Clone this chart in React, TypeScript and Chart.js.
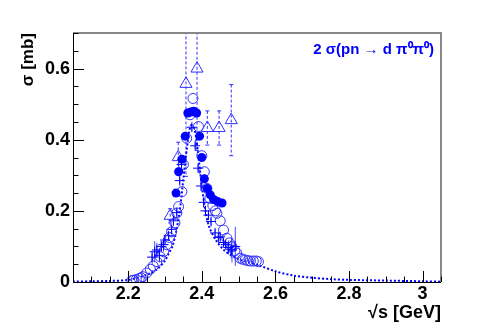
import React, { useEffect, useRef } from "react";
import { Chart, registerables } from "chart.js";

Chart.register(...registerables);

// ---- data ----
const xTickValues = [2.2, 2.4, 2.6, 2.8, 3.0];
const xTickLabels = ["2.2", "2.4", "2.6", "2.8", "3"];
const yTickValues = [0, 0.2, 0.4, 0.6];
const yTickLabels = ["0", "0.2", "0.4", "0.6"];

// filled circles
const filledE = [2.33, 2.337, 2.346, 2.355, 2.362, 2.37, 2.378, 2.386, 2.394, 2.4, 2.407, 2.415, 2.423, 2.432, 2.443, 2.455];
const filledS = [0.25, 0.31, 0.345, 0.41, 0.475, 0.478, 0.48, 0.475, 0.41, 0.35, 0.29, 0.263, 0.245, 0.232, 0.226, 0.222];

// open circles
const openE = [2.21, 2.214, 2.222, 2.23, 2.235, 2.24, 2.25, 2.26, 2.268, 2.278, 2.287, 2.296, 2.305, 2.312, 2.318, 2.327, 2.332, 2.337, 2.346, 2.35, 2.359, 2.368, 2.376, 2.391, 2.4, 2.407, 2.414, 2.422, 2.43, 2.437, 2.441, 2.45, 2.459, 2.468, 2.475, 2.482, 2.49, 2.495, 2.504, 2.511, 2.518, 2.525, 2.532, 2.54, 2.548, 2.554];
const openS = [0.004, 0.005, 0.007, 0.01, 0.012, 0.015, 0.025, 0.036, 0.045, 0.057, 0.071, 0.085, 0.105, 0.125, 0.141, 0.166, 0.194, 0.212, 0.254, 0.33, 0.404, 0.47, 0.516, 0.437, 0.355, 0.31, 0.263, 0.235, 0.215, 0.2, 0.193, 0.172, 0.146, 0.123, 0.11, 0.099, 0.088, 0.081, 0.067, 0.064, 0.062, 0.06, 0.059, 0.059, 0.059, 0.057];

// crosses
const crossE = [2.265, 2.272, 2.278, 2.285, 2.29, 2.296, 2.3, 2.31, 2.318, 2.323, 2.332, 2.34, 2.345, 2.373, 2.382, 2.39, 2.398, 2.405, 2.41, 2.418, 2.425, 2.436, 2.445, 2.45, 2.459, 2.465, 2.473, 2.48, 2.482, 2.491];
const crossS = [0.07, 0.085, 0.09, 0.075, 0.1, 0.105, 0.118, 0.13, 0.148, 0.172, 0.195, 0.285, 0.33, 0.435, 0.383, 0.32, 0.27, 0.224, 0.2, 0.188, 0.17, 0.138, 0.125, 0.127, 0.111, 0.105, 0.097, 0.092, 0.09, 0.1];
const crossErr = [0.01, 0.03, 0.02, 0.02, 0.015, 0.02, 0.01, 0.01, 0.01, 0.01, 0.01, 0.01, 0.01, 0.01, 0.01, 0.01, 0.01, 0.01, 0.01, 0.01, 0.01, 0.01, 0.01, 0.01, 0.01, 0.01, 0.02, 0.025, 0.035, 0.055];

// open triangles
const triE = [2.314, 2.336, 2.357, 2.387, 2.415, 2.447, 2.48];
const triS = [0.186, 0.351, 0.557, 0.6, 0.433, 0.433, 0.455];
const triErr = [0.02, 0.042, 0.26, 0.23, 0.048, 0.048, 0.1];

// dotted curve
const curveE = [2.05, 2.1, 2.15, 2.2, 2.25, 2.28, 2.3, 2.31, 2.32, 2.33, 2.34, 2.35, 2.36, 2.37, 2.38, 2.39, 2.4, 2.41, 2.42, 2.44, 2.46, 2.48, 2.5, 2.53, 2.56, 2.6, 2.65, 2.7, 2.75, 2.8, 2.9, 3.0, 3.05];
const curveS = [0.001, 0.002, 0.003, 0.006, 0.02, 0.037, 0.06, 0.08, 0.1, 0.14, 0.2, 0.29, 0.38, 0.44, 0.43, 0.36, 0.27, 0.2, 0.155, 0.115, 0.09, 0.075, 0.064, 0.055, 0.045, 0.03, 0.018, 0.012, 0.008, 0.006, 0.004, 0.002, 0.001];

const BLUE = "rgb(0,0,255)";
const BLUE_L = "rgb(50,50,255)";

const pts = (xs: number[], ys: number[]) => xs.map((x, i) => ({ x, y: ys[i] }));

const decorPlugin = {
  id: "decor",
  beforeDatasetsDraw(chart: any) {
    const { ctx, chartArea: ca, scales } = chart;
    const xs = scales.x, ys = scales.y;
    ctx.save();
    ctx.beginPath();
    ctx.rect(ca.left, ca.top, ca.right - ca.left, ca.bottom - ca.top);
    ctx.clip();
    // triangle error bars (dashed)
    ctx.strokeStyle = BLUE_L;
    ctx.lineWidth = 1;
    ctx.setLineDash([3, 2]);
    triE.forEach((e, i) => {
      const px = xs.getPixelForValue(e);
      const y1 = ys.getPixelForValue(triS[i] + triErr[i]);
      const y2 = ys.getPixelForValue(triS[i] - triErr[i]);
      ctx.beginPath();
      ctx.moveTo(px, y1);
      ctx.lineTo(px, y2);
      ctx.stroke();
    });
    ctx.setLineDash([]);
    triE.forEach((e, i) => {
      const px = xs.getPixelForValue(e);
      [triS[i] + triErr[i], triS[i] - triErr[i]].forEach((v) => {
        const py = ys.getPixelForValue(v);
        ctx.beginPath();
        ctx.moveTo(px - 2, py);
        ctx.lineTo(px + 2, py);
        ctx.stroke();
      });
    });
    // cross error bars
    ctx.strokeStyle = "rgba(40,40,255,0.85)";
    crossE.forEach((e, i) => {
      const px = xs.getPixelForValue(e);
      ctx.beginPath();
      ctx.moveTo(px, ys.getPixelForValue(crossS[i] + crossErr[i]));
      ctx.lineTo(px, ys.getPixelForValue(crossS[i] - crossErr[i]));
      ctx.stroke();
    });
    ctx.restore();
  },
  afterDraw(chart: any) {
    const { ctx, chartArea: ca, scales } = chart;
    const xs = scales.x, ys = scales.y;
    ctx.save();
    // frame
    ctx.strokeStyle = "#888";
    ctx.lineWidth = 2;
    ctx.beginPath();
    ctx.moveTo(ca.left, ca.top);
    ctx.lineTo(ca.right, ca.top);
    ctx.lineTo(ca.right, ca.bottom);
    ctx.stroke();
    ctx.strokeStyle = "#000";
    ctx.lineWidth = 1;
    ctx.beginPath();
    ctx.moveTo(ca.left + 0.5, ca.top);
    ctx.lineTo(ca.left + 0.5, ca.bottom + 0.5);
    ctx.lineTo(ca.right, ca.bottom + 0.5);
    ctx.stroke();
    // ticks
    ctx.beginPath();
    for (let v = 2.1; v <= 3.05 + 1e-9; v += 0.05) {
      const px = Math.round(xs.getPixelForValue(v)) + 0.5;
      const major = xTickValues.some((t) => Math.abs(t - v) < 1e-6);
      ctx.moveTo(px, ca.bottom);
      ctx.lineTo(px, ca.bottom - (major ? 11 : 5.5));
    }
    for (let v = 0; v <= 0.7 + 1e-9; v += 0.05) {
      const py = Math.round(ys.getPixelForValue(v)) + 0.5;
      const major = yTickValues.some((t) => Math.abs(t - v) < 1e-6);
      ctx.moveTo(ca.left, py);
      ctx.lineTo(ca.left + (major ? 11 : 5.5), py);
    }
    ctx.stroke();
    // reaction label
    ctx.fillStyle = BLUE;
    ctx.font = "bold 15px 'Liberation Sans', Arial, sans-serif";
    ctx.textAlign = "right";
    ctx.textBaseline = "middle";
    ctx.fillText("2 σ(pn → d π⁰π⁰)", 434, 50);
    ctx.restore();
  },
};

export default function App() {
  const ref = useRef<HTMLCanvasElement>(null);
  useEffect(() => {
    if (!ref.current) return;
    const font = { family: "'Liberation Sans', Arial, sans-serif", size: 18, weight: "bold" as const };
    const chart = new Chart(ref.current, {
      type: "scatter",
      data: {
        datasets: [
          {
            label: "filled",
            data: pts(filledE, filledS),
            pointStyle: "circle",
            pointRadius: 4.5,
            backgroundColor: BLUE,
            borderColor: BLUE,
            borderWidth: 0,
            order: 1,
          },
          {
            label: "cross",
            data: pts(crossE, crossS),
            pointStyle: "cross",
            pointRadius: 5,
            borderColor: BLUE,
            borderWidth: 1,
            order: 2,
          },
          {
            label: "open",
            data: pts(openE, openS),
            pointStyle: "circle",
            pointRadius: 5,
            backgroundColor: "rgba(0,0,0,0)",
            borderColor: BLUE_L,
            borderWidth: 1,
            order: 3,
          },
          {
            label: "tri",
            data: pts(triE, triS),
            pointStyle: "triangle",
            pointRadius: 7,
            backgroundColor: "rgba(0,0,0,0)",
            borderColor: BLUE_L,
            borderWidth: 1,
            order: 4,
          },
          {
            label: "curve",
            data: pts(curveE, curveS),
            showLine: true,
            pointRadius: 0,
            borderColor: BLUE,
            borderWidth: 2,
            borderDash: [2, 2],
            tension: 0.3,
            order: 5,
          },
        ],
      },
      options: {
        responsive: false,
        animation: false,
        events: [],
        layout: { padding: { top: 33, right: 50, left: 0, bottom: 0 } },
        plugins: { legend: { display: false }, tooltip: { enabled: false } },
        scales: {
          x: {
            type: "linear",
            min: 2.05,
            max: 3.05,
            grid: { display: false, drawTicks: false },
            border: { display: false },
            afterBuildTicks: (s: any) => {
              s.ticks = xTickValues.map((v) => ({ value: v }));
            },
            afterFit: (s: any) => {
              s.height = 50;
            },
            ticks: {
              color: "#000",
              font,
              padding: 1,
              maxRotation: 0,
              autoSkip: false,
              callback: (v: any) => xTickLabels[xTickValues.findIndex((t) => Math.abs(t - v) < 1e-6)] ?? "",
            },
            title: {
              display: true,
              text: "√s [GeV]",
              align: "end",
              color: "#000",
              font,
              padding: { top: 0, bottom: 8 },
            },
          },
          y: {
            type: "linear",
            min: 0,
            max: 0.7,
            grid: { display: false, drawTicks: false },
            border: { display: false },
            afterBuildTicks: (s: any) => {
              s.ticks = yTickValues.map((v) => ({ value: v }));
            },
            afterFit: (s: any) => {
              s.width = 73;
            },
            ticks: {
              color: "#000",
              font,
              padding: 3,
              autoSkip: false,
              callback: (v: any) => yTickLabels[yTickValues.findIndex((t) => Math.abs(t - v) < 1e-6)] ?? "",
            },
            title: {
              display: true,
              text: "σ [mb]",
              align: "end",
              color: "#000",
              font: { ...font, size: 17 },
              padding: { top: 18, bottom: 0 },
            },
          },
        },
      },
      plugins: [decorPlugin],
    });
    return () => chart.destroy();
  }, []);
  return (
    <div style={{ position: "fixed", left: 0, top: 0, width: 491, height: 332, background: "#fff" }}>
      <canvas ref={ref} width={491} height={332} style={{ width: 491, height: 332 }} />
    </div>
  );
}
